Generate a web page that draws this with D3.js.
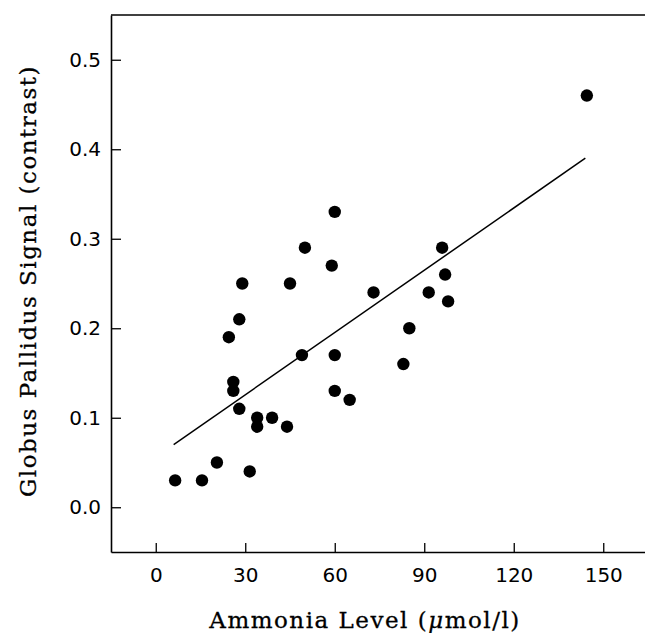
<!DOCTYPE html>
<html>
<head>
<meta charset="utf-8">
<script src="https://cdn.jsdelivr.net/npm/d3@7"></script>
<style>
  body { margin: 0; background: #fff; }
  svg { display: block; }
</style>
</head>
<body>
<div id="chart"></div>
<script>
// Ammonia level (umol/l) vs globus pallidus signal (contrast)
const ammonia = [6.5, 15.5, 20.5, 31.5, 34, 34, 39, 44, 28, 26, 26, 24.5, 28, 29, 45,
                 50, 59, 60, 49, 60, 60, 65, 73, 83, 85, 91.5, 96, 97, 98, 144.5];
const signal  = [0.03, 0.03, 0.05, 0.04, 0.09, 0.10, 0.10, 0.09, 0.11, 0.13, 0.14, 0.19, 0.21, 0.25, 0.25,
                 0.29, 0.27, 0.33, 0.17, 0.17, 0.13, 0.12, 0.24, 0.16, 0.20, 0.24, 0.29, 0.26, 0.23, 0.46];

// regression line end points
const fitX = [6, 144];
const fitY = [0.07, 0.39];

const xTicks = [0, 30, 60, 90, 120, 150];
const yTicks = [0.0, 0.1, 0.2, 0.3, 0.4, 0.5];

function render() {
    const W = 645, H = 633;
    const left = 111, right = 648, top = 15, bottom = 552;

    const svg = d3.select('#chart').append('svg')
        .attr('width', W)
        .attr('height', H);

    const x = d3.scaleLinear().domain([-15, 165]).range([left, right]);
    const y = d3.scaleLinear().domain([-0.05, 0.55]).range([bottom, top]);

    // frame top line
    svg.append('line')
        .attr('x1', left).attr('x2', right)
        .attr('y1', top).attr('y2', top)
        .attr('stroke', '#000').attr('stroke-width', 1.6);

    // axes, ticks pointing inward
    const yAxis = svg.append('g')
        .attr('transform', `translate(${left},0)`)
        .call(d3.axisLeft(y).tickValues(yTicks).tickFormat(d3.format('.1f'))
            .tickSizeInner(-10).tickSizeOuter(0).tickPadding(10));

    const xAxis = svg.append('g')
        .attr('transform', `translate(0,${bottom})`)
        .call(d3.axisBottom(x).tickValues(xTicks).tickFormat(d3.format('d'))
            .tickSizeInner(-9).tickSizeOuter(0).tickPadding(16));

    [xAxis, yAxis].forEach(g => {
        g.select('.domain').attr('stroke-width', 1.6);
        g.selectAll('.tick line').attr('stroke-width', 1.3);
        g.selectAll('text')
            .style('font-family', '"DejaVu Sans", sans-serif')
            .style('font-size', '20px')
            .attr('fill', '#000');
    });

    // regression line
    svg.append('line')
        .attr('x1', x(fitX[0])).attr('y1', y(fitY[0]))
        .attr('x2', x(fitX[1])).attr('y2', y(fitY[1]))
        .attr('stroke', '#000').attr('stroke-width', 1.5);

    // points
    svg.append('g').selectAll('circle')
        .data(ammonia.map((a, i) => ({ a, s: signal[i] })))
        .enter()
        .append('circle')
        .attr('cx', d => x(d.a))
        .attr('cy', d => y(d.s))
        .attr('r', 6.2)
        .attr('fill', '#000');

    // axis titles
    const titleStyle = sel => sel
        .style('font-family', '"DejaVu Serif", serif')
        .style('font-size', '23px')
        .style('letter-spacing', '1.5px')
        .attr('stroke', '#000')
        .attr('stroke-width', 0.3)
        .attr('text-anchor', 'middle');

    const xt = svg.append('text')
        .attr('x', 365)
        .attr('y', 628)
        .call(titleStyle);
    xt.append('tspan').text('Ammonia Level (');
    xt.append('tspan').style('font-style', 'italic').text('μ');
    xt.append('tspan').text('mol/l)');

    svg.append('text')
        .attr('transform', 'translate(36,281) rotate(-90)')
        .call(titleStyle)
        .text('Globus Pallidus Signal (contrast)');
}

render();
</script>
</body>
</html>
